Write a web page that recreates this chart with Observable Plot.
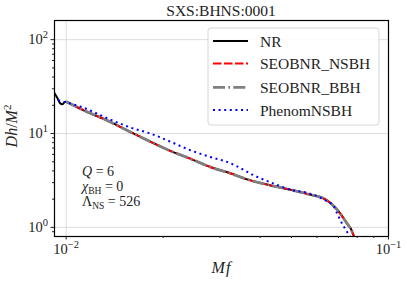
<!DOCTYPE html>
<html><head><meta charset="utf-8">
<script src="https://cdn.jsdelivr.net/npm/d3@7"></script>
<script src="https://cdn.jsdelivr.net/npm/@observablehq/plot@0.6"></script>
<style>
body{margin:0;background:#fff}
svg{display:block}
#chart svg, #chart svg text, #chart svg tspan { font-family: "Liberation Serif", serif !important; }
</style>
</head><body><div id="chart"></div>
<script>
const title = "SXS:BHNS:0001";
const seriesNames = ["NR", "SEOBNR_NSBH", "SEOBNR_BBH", "PhenomNSBH"];

const nrF = [0.00918, 0.00938, 0.00958, 0.00972, 0.00993, 0.01014, 0.01105, 0.0137, 0.0158, 0.01824, 0.02104, 0.02427, 0.02801, 0.0323, 0.0364, 0.0425, 0.0490, 0.0566, 0.0637, 0.0676, 0.0699, 0.0725, 0.0746, 0.0762, 0.0784, 0.0792];
const nrD = [27.2, 24.0, 21.0, 20.5, 21.8, 21.2, 18.3, 13.3, 10.4, 8.2, 6.53, 5.40, 4.40, 3.77, 3.25, 2.83, 2.55, 2.25, 1.99, 1.69, 1.49, 1.257, 1.084, 0.983, 0.788, 0.74];

const nsbhF = [0.0100, 0.01105, 0.0137, 0.0158, 0.01824, 0.02104, 0.02427, 0.02801, 0.0323, 0.0364, 0.0425, 0.0490, 0.0566, 0.0637, 0.0676, 0.0699, 0.0725, 0.0746, 0.0762, 0.0784, 0.0792];
const nsbhD = [21.9, 18.5, 13.3, 10.4, 8.2, 6.53, 5.40, 4.40, 3.77, 3.25, 2.83, 2.55, 2.25, 1.99, 1.69, 1.49, 1.257, 1.084, 0.983, 0.788, 0.74];

const bbhF = [0.0100, 0.01105, 0.0137, 0.0158, 0.01824, 0.02104, 0.02427, 0.02801, 0.0323, 0.0364, 0.0425, 0.0490, 0.0566, 0.0637, 0.0676, 0.0699, 0.0725, 0.0746, 0.0762, 0.0784, 0.0792];
const bbhD = [21.9, 18.5, 13.3, 10.4, 8.2, 6.53, 5.40, 4.40, 3.77, 3.25, 2.83, 2.55, 2.25, 1.99, 1.69, 1.49, 1.257, 1.084, 0.983, 0.788, 0.74];

const phenF = [0.00944, 0.0100, 0.01105, 0.0137, 0.0158, 0.01824, 0.02104, 0.02427, 0.02801, 0.0323, 0.0340, 0.0386, 0.0446, 0.0490, 0.0566, 0.0637, 0.0676, 0.0694, 0.0720, 0.0741, 0.0762, 0.0770];
const phenD = [22.6, 21.5, 19.4, 14.1, 11.6, 10.0, 8.2, 6.64, 5.63, 4.83, 4.45, 3.53, 2.88, 2.55, 2.31, 1.94, 1.69, 1.39, 1.08, 0.913, 0.788, 0.74];

const xMajor = [0.01, 0.1];
const xMajorLabels = ["10^−2", "10^−1"];
const xMinor = [0.02, 0.03, 0.04, 0.05, 0.06, 0.07, 0.08, 0.09];
const yMajor = [1, 10, 100];
const yMajorLabels = ["10^0", "10^1", "10^2"];
const yMinor = [0.9, 2, 3, 4, 5, 6, 7, 8, 9, 20, 30, 40, 50, 60, 70, 80, 90];

const annotations = [
  [["Q", "i"], [" = 6", ""]],
  [["χ", "i"], ["BH", "sub"], [" = 0", ""]],
  [["Λ", ""], ["NS", "sub"], [" = 526", ""]]
];

const toRows = (f, d, s) => f.map((v, i) => ({f: v, D: d[i], s}));
const nr = toRows(nrF, nrD, seriesNames[0]);
const nsbh = toRows(nsbhF, nsbhD, seriesNames[1]);
const bbh = toRows(bbhF, bbhD, seriesNames[2]);
const phen = toRows(phenF, phenD, seriesNames[3]);

const styles = [
  {stroke: "black", strokeWidth: 2, strokeDasharray: null},
  {stroke: "#ff0000", strokeWidth: 2, strokeDasharray: "8.5 2.5"},
  {stroke: "#808080", strokeWidth: 2.8, strokeDasharray: "12 3.3 1.7 3.3"},
  {stroke: "#0000ff", strokeWidth: 2, strokeDasharray: "2 3.6"}
];

const W = 407, H = 282, mL = 54, mR = 19, mT = 20, mB = 46;

const lineOpts = (st) => ({x: "f", y: "D", curve: "monotone-x", clip: true, stroke: st.stroke, strokeWidth: st.strokeWidth, strokeDasharray: st.strokeDasharray, strokeLinecap: "butt", strokeLinejoin: "round"});

const svg = Plot.plot({
  width: W, height: H,
  marginLeft: mL, marginRight: mR, marginTop: mT, marginBottom: mB,
  style: {fontSize: "14.5px", color: "#222", background: "white"},
  x: {type: "log", domain: [0.0092, 0.1], label: null},
  y: {type: "log", domain: [0.80, 160], label: null},
  marks: [
    Plot.gridX(xMajor, {stroke: "#d4d4d4", strokeOpacity: 1, strokeWidth: 0.8}),
    Plot.gridY(yMajor, {stroke: "#d4d4d4", strokeOpacity: 1, strokeWidth: 0.8}),
    Plot.line(nr, lineOpts(styles[0])),
    Plot.line(nsbh, lineOpts(styles[1])),
    Plot.line(bbh, lineOpts(styles[2])),
    Plot.line(phen, lineOpts(styles[3])),
    Plot.frame({stroke: "black", strokeWidth: 1.2}),
    Plot.axisX({ticks: xMajor, tickSize: 3.5, tickPadding: 4, tickFormat: d => xMajorLabels[xMajor.indexOf(d)], label: null}),
    Plot.axisX({ticks: xMinor, tickSize: 2, tickFormat: () => "", label: null}),
    Plot.axisY({ticks: yMajor, tickSize: 3.5, tickPadding: 3, tickFormat: d => yMajorLabels[yMajor.indexOf(d)], label: null}),
    Plot.axisY({ticks: yMinor, tickSize: 2, tickFormat: () => "", label: null})
  ]
});
document.getElementById("chart").appendChild(svg);

const s = d3.select(svg);
s.selectAll('g[aria-label$="tick label"] text').each(function() {
  const t = d3.select(this);
  const str = t.text();
  if (!str.includes("^")) return;
  const [b, e] = str.split("^");
  t.text(null);
  t.append("tspan").text(b);
  t.append("tspan").attr("dy", "-6").attr("font-size", "10.5px").text(e);
});

const addText = (x, y, anchor, size) => s.append("text").attr("x", x).attr("y", y)
  .attr("text-anchor", anchor).style("text-anchor", anchor)
  .style("font-size", size).attr("fill", "#222");

const cx = (mL + (W - mR)) / 2;
addText(cx, 16, "middle", "15.5px").text(title);
const xl = addText(cx, 273, "middle", "16px").style("font-style", "italic");
xl.append("tspan").text("M");
xl.append("tspan").attr("dx", "1").text("f");
const yl = addText(0, 0, "middle", "16px").attr("transform", "translate(17,126) rotate(-90)");
yl.append("tspan").style("font-style", "italic").text("Dh");
yl.append("tspan").text("/");
yl.append("tspan").style("font-style", "italic").text("M");
yl.append("tspan").attr("dy", "-6").style("font-size", "11px").text("2");

annotations.forEach((parts, i) => {
  const t = addText(82, 176 + i * 15, "start", "14px");
  let shifted = false;
  parts.forEach(([txt, kind]) => {
    const sp = t.append("tspan").text(txt);
    if (kind === "i") sp.style("font-style", "italic");
    if (kind === "sub") { sp.style("font-size", "9.5px").attr("dy", "2.5"); shifted = true; }
    else if (shifted) { sp.attr("dy", "-2.5"); shifted = false; }
  });
});

const lg = s.append("g");
lg.append("rect").attr("x", 208).attr("y", 28).attr("width", 171).attr("height", 97).attr("rx", 3)
  .attr("fill", "white").attr("fill-opacity", 0.85).attr("stroke", "#cccccc").attr("stroke-width", 0.8);
const rowsY = [41, 63.5, 87.3, 110];
seriesNames.forEach((name, i) => {
  const st = styles[i];
  lg.append("line").attr("x1", 213).attr("x2", 248).attr("y1", rowsY[i]).attr("y2", rowsY[i])
    .attr("stroke", st.stroke).attr("stroke-width", st.strokeWidth)
    .attr("stroke-dasharray", st.strokeDasharray).attr("stroke-linecap", "butt");
  addText(260, rowsY[i] + 5.5, "start", "15.5px").text(name);
});
</script>
</body></html>
